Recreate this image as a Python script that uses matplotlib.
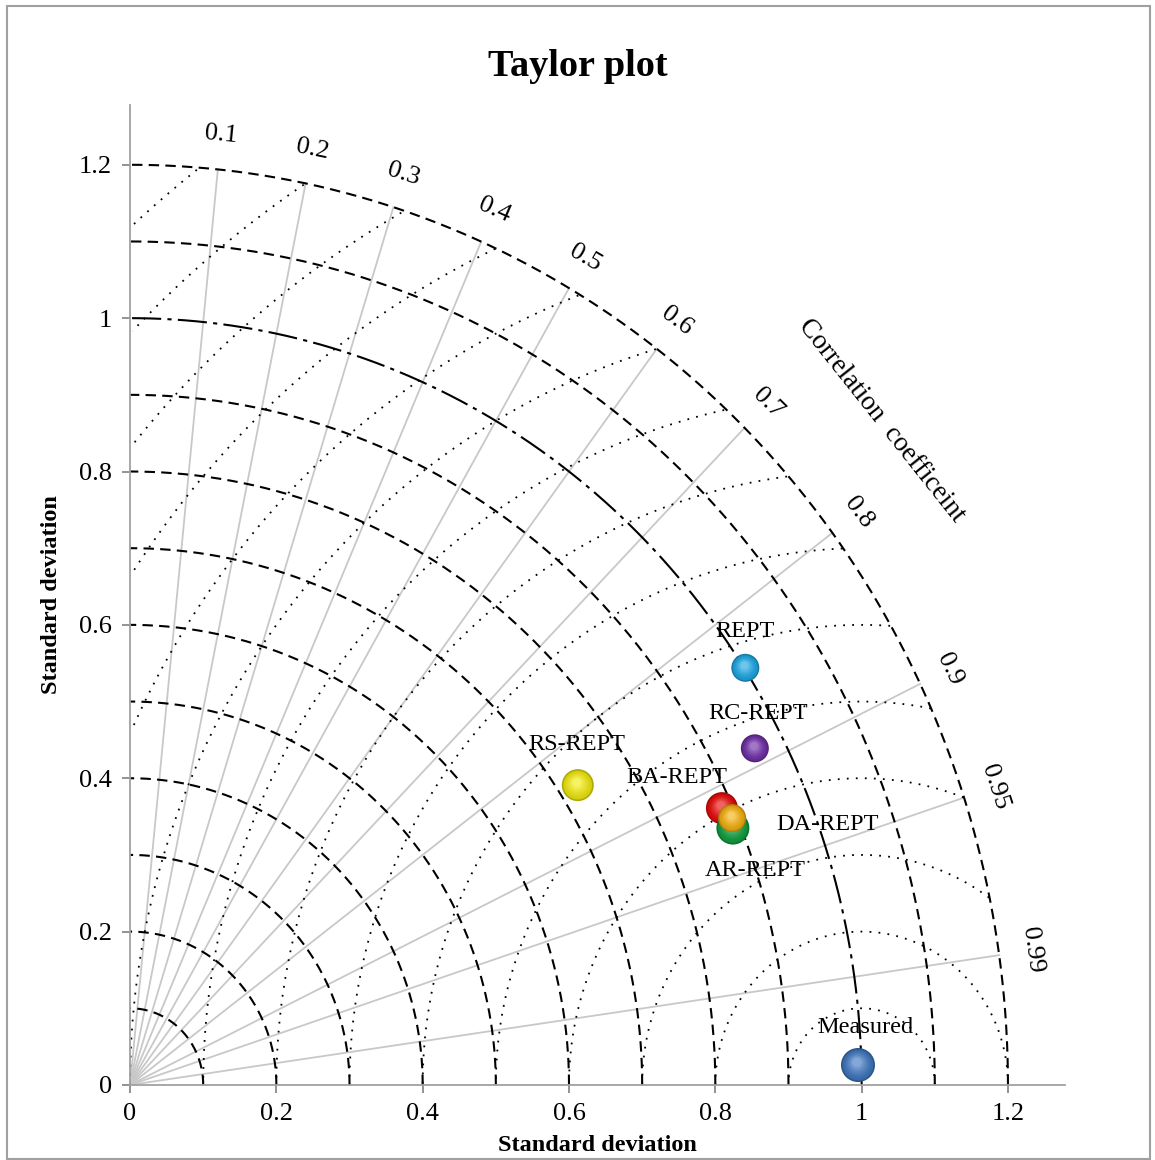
import numpy as np
import matplotlib
matplotlib.use("Agg")
import matplotlib.pyplot as plt
from matplotlib.patches import Rectangle
from matplotlib.transforms import ScaledTranslation

plt.rcParams['font.family'] = ['Liberation Serif', 'DejaVu Serif']

# data
models = ['REPT', 'RC-REPT', 'RS-REPT', 'BA-REPT', 'AR-REPT', 'DA-REPT', 'Measured']
std_x = [0.841, 0.854, 0.612, 0.809, 0.824, 0.823, 0.995]
std_y = [0.544, 0.439, 0.391, 0.361, 0.335, 0.348, 0.026]
corr_ticks = [0.1, 0.2, 0.3, 0.4, 0.5, 0.6, 0.7, 0.8, 0.9, 0.95, 0.99]
std_levels = [0.1, 0.2, 0.3, 0.4, 0.5, 0.6, 0.7, 0.8, 0.9, 1.0, 1.1, 1.2]
rms_levels = [0.1, 0.2, 0.3, 0.4, 0.5, 0.6, 0.7, 0.8, 0.9, 1.0, 1.1, 1.2, 1.3, 1.4, 1.5]
tick_vals = [0, 0.2, 0.4, 0.6, 0.8, 1.0, 1.2]
tick_labels = ['0', '0.2', '0.4', '0.6', '0.8', '1', '1.2']

# styling
colors = {'REPT': '#1ea8e4', 'RC-REPT': '#7030a8', 'RS-REPT': '#f2ea10',
          'BA-REPT': '#e80c0c', 'AR-REPT': '#12a040', 'DA-REPT': '#f4b010',
          'Measured': '#4078c0'}
sizes = {'REPT': 28, 'RC-REPT': 28, 'RS-REPT': 32, 'BA-REPT': 32,
         'AR-REPT': 33, 'DA-REPT': 28, 'Measured': 34}
label_off = {'REPT': (0, 36), 'RC-REPT': (3, 35), 'RS-REPT': (-1, 41),
             'BA-REPT': (-45, 31), 'AR-REPT': (22, -42), 'DA-REPT': (95, -6),
             'Measured': (7, 38)}
RMAX = 1.2

fig = plt.figure(figsize=(11.55, 11.6), dpi=100)
ax = fig.add_axes([0.1126, 0.0647, 0.8095, 0.8448])
ax.set_xlim(0, 1.278)
ax.set_ylim(0, 1.278)

theta = np.linspace(0, np.pi / 2, 400)

# correlation rays
for c in corr_ticks:
    t = np.arccos(c)
    ax.plot([0, RMAX * np.cos(t)], [0, RMAX * np.sin(t)], color='#c8c8c8', lw=1.3, zorder=1)
    ax.text(1.245 * np.cos(t), 1.245 * np.sin(t), f'{c:g}', fontsize=19,
            rotation=np.degrees(t) - 90, ha='center', va='center', rotation_mode='anchor')

# RMS circles around reference
phi = np.linspace(0, np.pi, 800)
for r in rms_levels:
    x = 1 + r * np.cos(phi)
    y = r * np.sin(phi)
    keep = (x >= 0) & (np.hypot(x, y) <= RMAX)
    x = np.where(keep, x, np.nan)
    y = np.where(keep, y, np.nan)
    ax.plot(x, y, color='black', lw=1.3, linestyle=(0, (1, 4)), zorder=2)

# std deviation arcs
for r in std_levels:
    ls = (0, (14, 3, 2, 3)) if r == 1.0 else (0, (5, 3))
    ax.plot(r * np.cos(theta), r * np.sin(theta), color='black', lw=1.5, linestyle=ls, zorder=2)

# sphere-like markers
for i, m in enumerate(models):
    x, y = std_x[i], std_y[i]
    d = sizes[m] * 0.72
    base = np.array(matplotlib.colors.to_rgb(colors[m]))
    z0 = 5 + 0.1 * i
    ax.scatter([x], [y], s=d ** 2, color=base * 0.72, edgecolors='none', zorder=z0)
    for k, f in enumerate(np.linspace(0, 1, 8)):
        frac = 1 - 0.7 * f
        col = base * (0.88 + 0.12 * f) + 0.35 * f ** 1.5 * (1 - base)
        col = np.clip(col, 0, 1)
        shift = ScaledTranslation(-0.03 * f * d / 72, 0.08 * f * d / 72, fig.dpi_scale_trans)
        ax.scatter([x], [y], s=(d * 0.9 * frac) ** 2, color=col, edgecolors='none',
                   zorder=z0 + 0.01 * (k + 1), transform=ax.transData + shift)
    dx, dy = label_off[m]
    ax.annotate(m, (x, y), xytext=(dx, dy), textcoords='offset pixels', fontsize=17.5,
                ha='center', va='center', zorder=7)

ax.text(1.027, 0.866, 'Correlation  coefficeint', fontsize=19.5, rotation=-51.5,
        ha='center', va='center', rotation_mode='anchor')

for s in ['top', 'right']:
    ax.spines[s].set_visible(False)
for s in ['left', 'bottom']:
    ax.spines[s].set_color('#a0a0a0')
    ax.spines[s].set_linewidth(1.3)
ax.set_xticks(tick_vals)
ax.set_xticklabels(tick_labels)
ax.set_yticks(tick_vals)
ax.set_yticklabels(tick_labels)
ax.tick_params(length=6, width=1.2, color='#808080', labelsize=19, pad=7)

ax.set_xlabel('Standard deviation', fontsize=17.5, fontweight='bold', labelpad=7)
ax.set_ylabel('Standard deviation', fontsize=17.5, fontweight='bold', labelpad=12)
fig.suptitle('Taylor plot', fontsize=27.5, fontweight='bold', y=0.958)

fig.patches.append(Rectangle((0.006, 0.001), 0.99, 0.9935, transform=fig.transFigure,
                             fill=False, edgecolor='#a0a0a0', lw=1.5))

fig.savefig('out.png', dpi=100)
